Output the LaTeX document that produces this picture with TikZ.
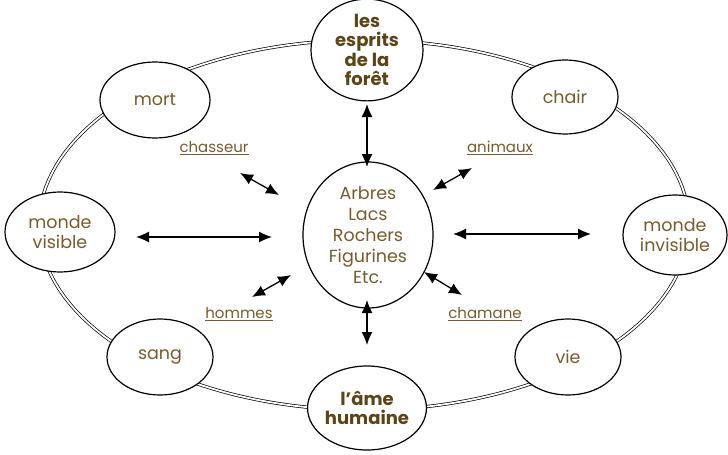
\documentclass[tikz,border=0pt]{standalone}
\usepackage{fontspec}
\setmainfont{Poppins}
\usetikzlibrary{shapes.geometric,arrows.meta}
\definecolor{txtbrown}{HTML}{7A5A2A}
\definecolor{boldbrown}{HTML}{5E4316}
\tikzset{
  blob/.style={ellipse, draw=black, line width=1.2pt, fill=white, inner sep=0pt, text=txtbrown, align=center, font=\fontsize{17.5}{20.5}\selectfont},
  boldblob/.style={blob, text=boldbrown, font=\fontsize{18}{19.5}\selectfont\bfseries},
  lnk/.style={line width=1.3pt, {Latex[length=13pt,width=11pt]}-{Latex[length=13pt,width=11pt]}},
  lab/.style={text=txtbrown, font=\fontsize{15}{17}\selectfont, inner sep=0pt}
}
\begin{document}
\begin{tikzpicture}[x=1pt,y=-1pt]
\useasboundingbox (0,0) rectangle (728,455);
\draw[double, double distance=1.8pt, line width=0.7pt] (364,225) ellipse [x radius=325, y radius=185];

\node[boldblob, minimum width=112pt, minimum height=96pt] (esprits) at (367,50) {les\\esprits\\de la\\forêt};
\node[blob, minimum width=110pt, minimum height=76pt] (mort) at (155,100) {mort};
\node[blob, minimum width=106pt, minimum height=74pt] (chair) at (565,97) {chair};
\node[blob, minimum width=110pt, minimum height=80pt] (visible) at (60,232) {monde\\visible};
\node[blob, minimum width=104pt, minimum height=80pt] (invisible) at (675,235) {monde\\invisible};
\node[blob, minimum width=106pt, minimum height=76pt] (sang) at (160,357) {sang};
\node[blob, minimum width=106pt, minimum height=76pt] (vie) at (568,357) {vie};
\node[boldblob, minimum width=110pt, minimum height=84pt] (ame) at (367,408) {l’âme\\humaine};
\node[blob, minimum width=130pt, minimum height=146pt, font=\fontsize{17.5}{21}\selectfont] (centre) at (368,235) {Arbres\\Lacs\\Rochers\\Figurines\\Etc.};

\coordinate (t1) at (367,104); \coordinate (t2) at (367,167);
\coordinate (b1) at (367,300); \coordinate (b2) at (367,345);
\coordinate (l1) at (136,237); \coordinate (l2) at (272,237);
\coordinate (r1) at (453,234); \coordinate (r2) at (591,234);
\coordinate (c1) at (240,173); \coordinate (c2) at (279,195);
\coordinate (a1) at (433,190); \coordinate (a2) at (472,168);
\coordinate (h1) at (252,297); \coordinate (h2) at (291,275);
\coordinate (s1) at (424,272); \coordinate (s2) at (462,295);

\draw[lnk] (t1) -- (t2);
\draw[lnk] (b1) -- (b2);
\draw[lnk] (l1) -- (l2);
\draw[lnk] (r1) -- (r2);
\draw[lnk] (c1) -- (c2);
\draw[lnk] (a1) -- (a2);
\draw[lnk] (h1) -- (h2);
\draw[lnk] (s1) -- (s2);

\node[lab] (chasseur) at (214,148) {\underline{chasseur}};
\node[lab] (animaux) at (500,148) {\underline{animaux}};
\node[lab] (hommes) at (239,314) {\underline{hommes}};
\node[lab] (chamane) at (485,314) {\underline{chamane}};
\end{tikzpicture}
\end{document}
